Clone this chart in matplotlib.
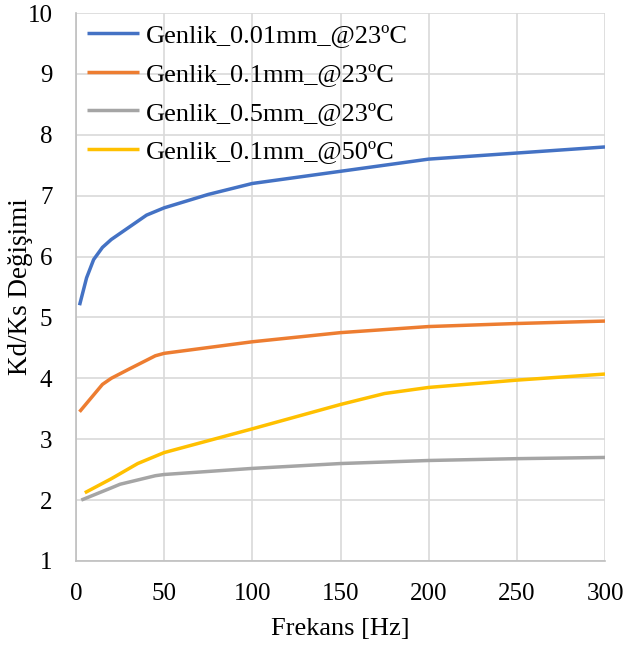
import matplotlib
matplotlib.use("Agg")
import matplotlib.pyplot as plt

plt.rcParams['font.family'] = ['Liberation Serif', 'DejaVu Serif']

# Frequency sweep results: dynamic-to-static stiffness ratio (Kd/Ks)
f_a001_23 = [2, 6, 10, 15, 20, 30, 40, 50, 75, 100, 150, 200, 250, 300]
kd_a001_23 = [5.2, 5.65, 5.95, 6.15, 6.28, 6.48, 6.68, 6.8, 7.02, 7.2, 7.4, 7.6, 7.7, 7.8]

f_a01_23 = [2, 15, 20, 30, 45, 50, 100, 150, 200, 250, 300]
kd_a01_23 = [3.45, 3.9, 4.0, 4.15, 4.37, 4.41, 4.6, 4.75, 4.85, 4.9, 4.94]

f_a05_23 = [3, 20, 25, 45, 50, 100, 150, 200, 250, 300]
kd_a05_23 = [2.0, 2.2, 2.26, 2.4, 2.42, 2.52, 2.6, 2.65, 2.68, 2.7]

f_a01_50 = [5, 20, 35, 50, 100, 150, 175, 200, 250, 300]
kd_a01_50 = [2.12, 2.35, 2.6, 2.78, 3.17, 3.57, 3.75, 3.85, 3.97, 4.07]

labels = ['Genlik_0.01mm_@23ºC', 'Genlik_0.1mm_@23ºC',
          'Genlik_0.5mm_@23ºC', 'Genlik_0.1mm_@50ºC']
colors = ['#4472C4', '#ED7D31', '#A5A5A5', '#FFC000']

fig = plt.figure(figsize=(6.25, 6.5), dpi=100)
ax = fig.add_axes([0.1216, 0.137, 0.8464, 0.843])

series = [(f_a001_23, kd_a001_23), (f_a01_23, kd_a01_23),
          (f_a05_23, kd_a05_23), (f_a01_50, kd_a01_50)]
for (x, y), lab, c in zip(series, labels, colors):
    ax.plot(x, y, color=c, lw=2.5, label=lab, solid_capstyle='butt')

ax.set_xlim(0, 300)
ax.set_ylim(1, 10)
ax.set_xticks(range(0, 301, 50))
ax.set_yticks(range(1, 11))
ax.grid(True, color='#d9d9d9', lw=1.2)
ax.set_axisbelow(True)
for s in ['top', 'right']:
    ax.spines[s].set_visible(False)
for s in ['left', 'bottom']:
    ax.spines[s].set_color('#bfbfbf')
    ax.spines[s].set_linewidth(1.2)
ax.tick_params(length=0, labelsize=18, colors='black')
ax.tick_params(axis='x', pad=16)
ax.tick_params(axis='y', pad=17)

ax.set_xlabel('Frekans [Hz]', fontsize=19, labelpad=9)
ax.set_ylabel('Kd/Ks Değişimi', fontsize=19.5, labelpad=-4)

ax.legend(loc='upper left', frameon=False, fontsize=19, handlelength=2.0,
          handletextpad=0.25, labelspacing=0.58, borderaxespad=0.25,
          borderpad=0.15, bbox_to_anchor=(0.0, 1.0))

fig.savefig('out.png', dpi=100)
